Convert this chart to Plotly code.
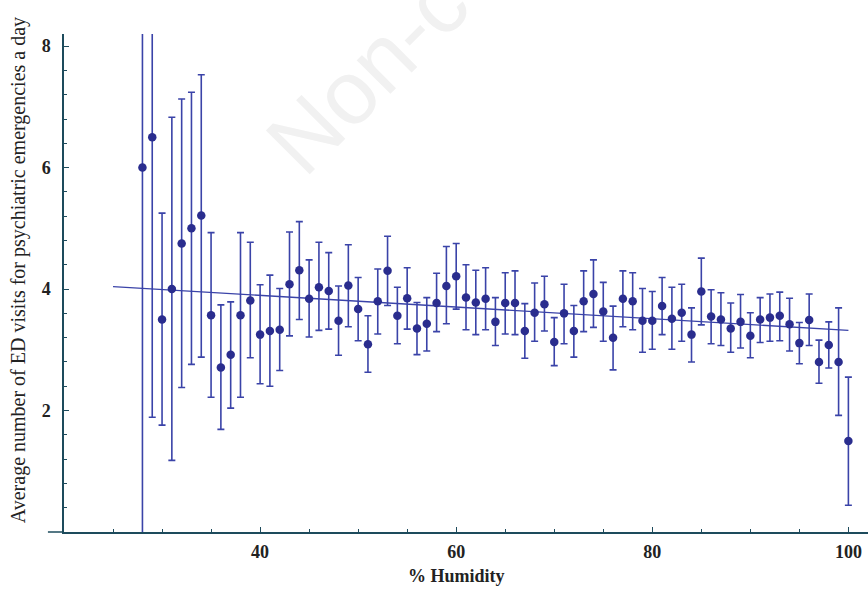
import plotly.graph_objects as go

# ---- data ----
humidity = list(range(28, 101))
mean_visits = [6.00, 6.50, 3.50, 4.00, 4.75, 5.00, 5.21, 3.57, 2.71, 2.92,
               3.57, 3.81, 3.25, 3.31, 3.33, 4.08, 4.31, 3.84, 4.03, 3.97,
               3.48, 4.06, 3.67, 3.09, 3.80, 4.30, 3.56, 3.85, 3.35, 3.43,
               3.77, 4.05, 4.21, 3.86, 3.78, 3.84, 3.46, 3.77, 3.77, 3.31,
               3.61, 3.75, 3.13, 3.60, 3.31, 3.80, 3.92, 3.63, 3.20, 3.84,
               3.80, 3.48, 3.48, 3.72, 3.51, 3.61, 3.25, 3.96, 3.55, 3.50,
               3.35, 3.46, 3.23, 3.50, 3.53, 3.56, 3.42, 3.11, 3.49, 2.80,
               3.08, 2.80, 1.50]
upper_ci = [12.30, 11.10, 5.25, 6.83, 7.13, 7.24, 7.53, 4.93, 3.74, 3.79,
            4.93, 4.77, 4.07, 4.23, 4.01, 4.94, 5.11, 4.48, 4.77, 4.60,
            4.05, 4.73, 4.19, 3.56, 4.33, 4.87, 4.03, 4.35, 3.78, 3.86,
            4.26, 4.70, 4.75, 4.40, 4.31, 4.35, 3.86, 4.27, 4.30, 3.76,
            4.10, 4.21, 3.53, 4.08, 3.73, 4.30, 4.48, 4.11, 3.72, 4.30,
            4.27, 4.01, 3.96, 4.19, 4.03, 4.08, 3.69, 4.51, 3.99, 3.94,
            3.77, 3.91, 3.61, 3.86, 3.92, 3.95, 3.85, 3.45, 3.92, 3.16,
            3.46, 3.69, 2.55]
lower_ci = [-0.30, 1.89, 1.76, 1.18, 2.38, 2.76, 2.88, 2.22, 1.69, 2.04,
            2.22, 2.87, 2.44, 2.40, 2.66, 3.23, 3.50, 3.21, 3.32, 3.34,
            2.91, 3.38, 3.15, 2.63, 3.26, 3.73, 3.10, 3.34, 2.92, 2.98,
            3.30, 3.43, 3.67, 3.33, 3.25, 3.33, 3.07, 3.26, 3.25, 2.86,
            3.14, 3.31, 2.74, 3.10, 2.88, 3.30, 3.37, 3.14, 2.67, 3.38,
            3.33, 2.96, 3.01, 3.25, 3.01, 3.14, 2.80, 3.41, 3.10, 3.07,
            2.96, 3.03, 2.87, 3.12, 3.14, 3.15, 2.98, 2.77, 3.07, 2.45,
            2.70, 1.92, 0.44]
trend_x = [25, 100]
trend_y = [4.04, 3.32]
x_tick_vals = [40, 60, 80, 100]
x_tick_text = ["40", "60", "80", "100"]
y_tick_vals = [2, 4, 6, 8]
y_tick_text = ["2", "4", "6", "8"]

err_plus = [u - m for u, m in zip(upper_ci, mean_visits)]
err_minus = [m - l for m, l in zip(mean_visits, lower_ci)]

AXIS = "#1d4b5c"
BAR = "#3a43a8"
DOT = "#2a2d8e"
SERIF = "Liberation Serif, Times New Roman, serif"

fig = go.Figure()
fig.add_trace(go.Scatter(
    x=trend_x, y=trend_y, mode="lines",
    line=dict(color=BAR, width=1.3), hoverinfo="skip", showlegend=False))
fig.add_trace(go.Scatter(
    x=humidity, y=mean_visits, mode="markers",
    marker=dict(color=DOT, size=8.5),
    error_y=dict(type="data", symmetric=False, array=err_plus, arrayminus=err_minus,
                 color=BAR, thickness=1.6, width=3.5),
    showlegend=False))

# watermark
fig.add_annotation(text="Non-commercial use only", xref="paper", yref="paper",
                   x=0.718, y=1.472, xanchor="center", yanchor="middle",
                   textangle=-45, showarrow=False,
                   font=dict(family="Liberation Sans, Arial, sans-serif", size=90, color="#f1f1f1"))

# axis titles
fig.add_annotation(text="Average number of ED visits for psychiatric emergencies a day",
                   xref="paper", yref="paper", x=-0.057, y=0.526, textangle=-90,
                   showarrow=False, xanchor="center", yanchor="middle",
                   font=dict(family=SERIF, size=20, color="#222222"))
fig.add_annotation(text="% Humidity", xref="x", yref="paper", x=60.0, y=-0.088,
                   showarrow=False, xanchor="center", yanchor="middle",
                   font=dict(family=SERIF, size=18, color="#222222", weight="bold"))

# x axis line extending slightly left of the y axis (Mathematica style)
fig.add_shape(type="line", xref="paper", yref="paper", x0=-0.02, x1=0.0, y0=0, y1=0,
              line=dict(color=AXIS, width=1.5))

fig.update_xaxes(range=[20, 102], showgrid=False, zeroline=False,
                 showline=True, linecolor=AXIS, linewidth=1.5,
                 ticks="inside", ticklen=5, tickcolor=AXIS, tickwidth=1.2,
                 tickvals=x_tick_vals, ticktext=x_tick_text, ticklabelstandoff=3,
                 tickfont=dict(family=SERIF, size=18, color="#222222", weight="bold"),
                 minor=dict(dtick=5, tick0=20, ticks="inside", ticklen=3,
                            tickcolor=AXIS, tickwidth=1, showgrid=False))
fig.update_yaxes(range=[0, 8.2], showgrid=False, zeroline=False,
                 showline=True, linecolor=AXIS, linewidth=1.5,
                 ticks="inside", ticklen=5, tickcolor=AXIS, tickwidth=1.2,
                 tickvals=y_tick_vals, ticktext=y_tick_text, ticklabelstandoff=8,
                 tickfont=dict(family=SERIF, size=18, color="#222222", weight="bold"),
                 minor=dict(dtick=0.4, tick0=0, ticks="inside", ticklen=3,
                            tickcolor=AXIS, tickwidth=1, showgrid=False))

fig.update_layout(width=868, height=589, autosize=False,
                  margin=dict(l=64, r=0, t=34, b=57),
                  plot_bgcolor="white", paper_bgcolor="white")

# remove the browser's default 8px body margin so the figure fills the window exactly
fig.write_html("out.html", config={"displayModeBar": False},
               post_script="document.body.style.margin='0';document.body.style.overflow='hidden';")
